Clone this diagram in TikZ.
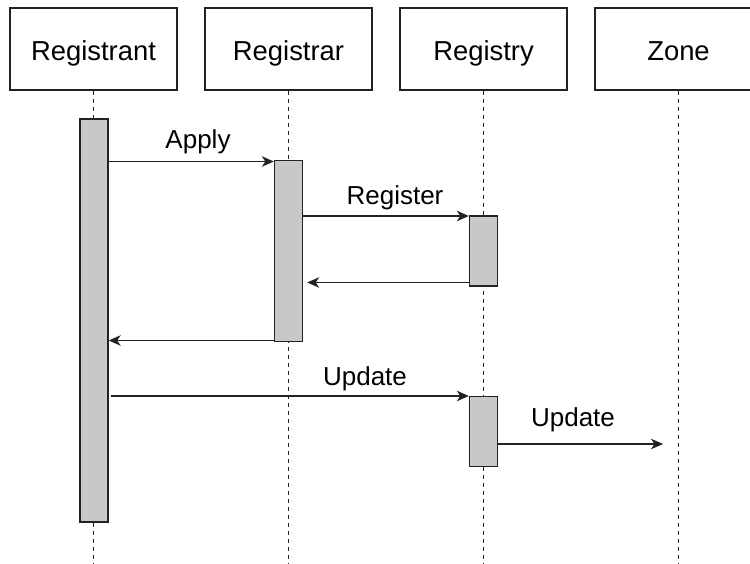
\documentclass[tikz,border=0pt]{standalone}
\usepackage{fontspec}
\setmainfont{Liberation Sans}
\usetikzlibrary{arrows.meta}
\definecolor{actfill}{HTML}{C8C8C8}
\definecolor{ink}{HTML}{222222}
\tikzset{
  header/.style={draw=ink, line width=1.2pt, fill=white, minimum width=167pt, minimum height=82pt, inner sep=0pt, text height=22pt, text depth=0pt, font=\fontsize{27.4}{32}\selectfont},
  actbox/.style={draw=ink, line width=1.4pt, fill=actfill, minimum width=28pt, inner sep=0pt},
  lifeline/.style={draw=ink, line width=1pt, dash pattern=on 4pt off 4pt},
  msg/.style={draw=ink, line width=1.3pt, -{Stealth[length=12pt,width=10.5pt,inset=3.5pt]}},
  msglabel/.style={anchor=base, inner sep=0pt, font=\fontsize{26}{30}\selectfont}
}
\begin{document}
\begin{tikzpicture}[x=1pt, y=-1pt]
\useasboundingbox (0,0) rectangle (750,563);
\clip (0,0) rectangle (750,563);
% headers
\node[header] (h1) at (93.5,49) {Registrant};
\node[header] (h2) at (288.5,49) {Registrar};
\node[header] (h3) at (483.5,49) {Registry};
\node[header] (h4) at (678.5,49) {Zone};
% lifeline ends
\coordinate (e1) at (93.5,563);
\coordinate (e2) at (288.5,563);
\coordinate (e3) at (483.5,563);
\coordinate (e4) at (678.5,563);
\draw[lifeline] (h1.south) -- (e1);
\draw[lifeline] (h2.south) -- (e2);
\draw[lifeline] (h3.south) -- (e3);
\draw[lifeline] (h4.south) -- (e4);
% activation boxes
\node[actbox, minimum height=403pt] (a1) at (94,320.5) {};
\node[actbox, minimum height=181pt] (a2) at (288.5,251) {};
\node[actbox, minimum height=70pt] (a3) at (483.5,251) {};
\node[actbox, minimum height=70pt] (a4) at (483.5,431.5) {};
% message levels
\coordinate (y1) at (0,161.5);
\coordinate (y2) at (0,216);
\coordinate (y3) at (0,282.5);
\coordinate (y4) at (0,340.5);
\coordinate (y5) at (0,396);
\coordinate (y6) at (0,444);
\coordinate (zend) at (663,444);
% messages
\draw[msg] (a1.east |- y1) -- (a2.west |- y1);
\draw[msg] (a2.east |- y2) -- (a3.west |- y2);
\draw[msg] (a3.west |- y3) -- ([xshift=4pt]a2.east |- y3);
\draw[msg] (a2.west |- y4) -- (a1.east |- y4);
\draw[msg] ([xshift=2pt]a1.east |- y5) -- (a4.west |- y5);
\draw[msg] (a4.east |- y6) -- (zend);
% labels
\node[msglabel] (l1) at (198,148) {Apply};
\node[msglabel] (l2) at (395,204) {Register};
\node[msglabel] (l3) at (365,385) {Update};
\node[msglabel] (l4) at (573,426) {Update};
\end{tikzpicture}
\end{document}
